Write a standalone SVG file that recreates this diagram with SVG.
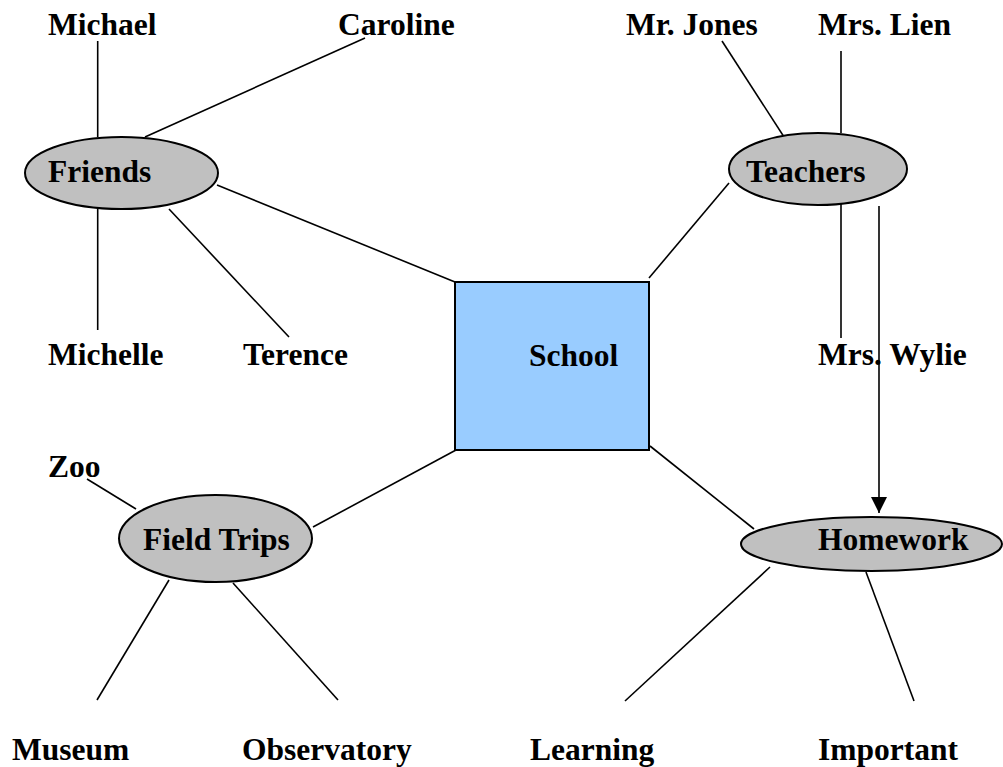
<svg xmlns="http://www.w3.org/2000/svg" width="1003" height="767" viewBox="0 0 1003 767">
<style>
text{font-family:"Liberation Serif","Times New Roman",serif;font-weight:bold;font-size:31.5px;fill:#000}
.oval{fill:#c0c0c0;stroke:#000;stroke-width:2}
.line{stroke:#000;stroke-width:1.6;fill:none}
</style>
<defs>
<marker id="ah" viewBox="0 0 16 16" refX="16" refY="8" markerWidth="16" markerHeight="16" markerUnits="userSpaceOnUse" orient="auto">
<path d="M0,0 L16,8 L0,16 Z" fill="#000"/>
</marker>
</defs>
<rect width="1003" height="767" fill="#fff"/>
<g id="connectors">
<line class="line" x1="97.7" y1="41" x2="97.7" y2="137"/>
<line class="line" x1="365" y1="38" x2="145" y2="137"/>
<line class="line" x1="217" y1="185" x2="455" y2="282"/>
<line class="line" x1="97.7" y1="209" x2="97.7" y2="330"/>
<line class="line" x1="169" y1="209" x2="289" y2="337"/>
<line class="line" x1="722" y1="41" x2="786" y2="140"/>
<line class="line" x1="841" y1="51" x2="841" y2="133"/>
<line class="line" x1="729" y1="183" x2="649" y2="278"/>
<line class="line" x1="841" y1="196" x2="841" y2="338"/>
<line class="line" x1="879" y1="206" x2="879" y2="513" marker-end="url(#ah)"/>
<line class="line" x1="87" y1="479" x2="136" y2="509"/>
<line class="line" x1="313" y1="527" x2="456" y2="450"/>
<line class="line" x1="169" y1="580" x2="97" y2="700"/>
<line class="line" x1="233" y1="583" x2="338" y2="700"/>
<line class="line" x1="650" y1="446" x2="754" y2="529"/>
<line class="line" x1="770" y1="567" x2="625" y2="701"/>
<line class="line" x1="866" y1="572" x2="914" y2="701"/>
</g>
<g id="school">
<rect x="455" y="282" width="194" height="168" fill="#99ccff" stroke="#000" stroke-width="2"/>
<text x="529" y="366">School</text>
</g>
<g id="friends">
<ellipse class="oval" cx="121.5" cy="173" rx="96.5" ry="36"/>
<text x="48" y="182">Friends</text>
</g>
<g id="teachers">
<ellipse class="oval" cx="818" cy="169" rx="89" ry="36"/>
<text x="746" y="182">Teachers</text>
</g>
<g id="fieldtrips">
<ellipse class="oval" cx="215.5" cy="538.5" rx="96.5" ry="43.5"/>
<text x="143" y="550">Field Trips</text>
</g>
<g id="homework">
<ellipse class="oval" cx="871.5" cy="544" rx="130.5" ry="27"/>
<text x="818" y="550">Homework</text>
</g>
<g id="michael"><text x="48" y="35">Michael</text></g>
<g id="caroline"><text x="338" y="35">Caroline</text></g>
<g id="michelle"><text x="48" y="365">Michelle</text></g>
<g id="terence"><text x="243" y="365">Terence</text></g>
<g id="mrjones"><text x="626" y="35">Mr. Jones</text></g>
<g id="mrslien"><text x="818" y="35">Mrs. Lien</text></g>
<g id="mrswylie"><text x="818" y="365">Mrs. Wylie</text></g>
<g id="zoo"><text x="48" y="477">Zoo</text></g>
<g id="museum"><text x="12" y="760">Museum</text></g>
<g id="observatory"><text x="242" y="760">Observatory</text></g>
<g id="learning"><text x="530" y="760">Learning</text></g>
<g id="important"><text x="818" y="760">Important</text></g>
</svg>
